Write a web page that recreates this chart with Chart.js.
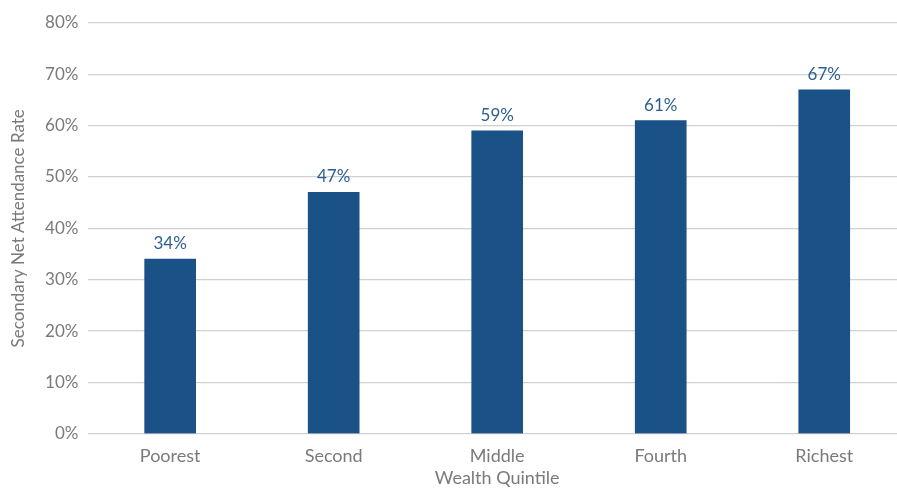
<!DOCTYPE html>
<html><head><meta charset="utf-8">
<script src="https://cdn.jsdelivr.net/npm/chart.js@4.4.0/dist/chart.umd.min.js"></script>
<style>
html,body{margin:0;padding:0;overflow:hidden;background:#fff;width:897px;height:489px}
#wrap{width:906px;height:489px;position:relative}
</style></head>
<body><div id="wrap"><canvas id="c"></canvas></div>
<script>
const categories = ["Poorest", "Second", "Middle", "Fourth", "Richest"];
const attendance = [34, 47, 59, 61, 67];
const yTicks = [0, 10, 20, 30, 40, 50, 60, 70, 80];

const FONT = "Lato";
const labelPlugin = {
  id: 'valueLabels',
  afterDatasetsDraw(chart) {
    const ctx = chart.ctx;
    const meta = chart.getDatasetMeta(0);
    ctx.save();
    ctx.fillStyle = '#2b5f93';
    ctx.font = '17px ' + FONT;
    ctx.textAlign = 'center';
    ctx.textBaseline = 'bottom';
    meta.data.forEach((bar, i) => {
      ctx.fillText(attendance[i] + '%', bar.x, bar.y - 7);
    });
    ctx.restore();
  }
};

new Chart(document.getElementById('c'), {
  type: 'bar',
  data: {
    labels: categories,
    datasets: [{
      data: attendance,
      backgroundColor: '#1a5186',
      barThickness: 51
    }]
  },
  options: {
    responsive: true,
    maintainAspectRatio: false,
    animation: false,
    layout: { padding: { top: 23, right: 0, bottom: 0, left: 0 } },
    plugins: { legend: { display: false }, tooltip: { enabled: false } },
    scales: {
      x: {
        grid: { display: false },
        border: { display: false },
        ticks: { color: '#7a7a7a', font: { family: FONT, size: 18 }, padding: 4 },
        title: { display: true, text: 'Wealth Quintile', color: '#7a7a7a', font: { family: FONT, size: 18 }, padding: { top: 0, bottom: 0 } },
        afterFit(s) { s.height = 55.3; }
      },
      y: {
        min: 0, max: 80,
        afterBuildTicks(s) { s.ticks = yTicks.map(v => ({ value: v })); },
        grid: { color: '#d0d0d0', lineWidth: 1.3, drawTicks: false },
        border: { display: false },
        ticks: { color: '#7a7a7a', font: { family: FONT, size: 17 }, padding: 10, callback: v => v + '%' },
        title: { display: true, text: 'Secondary Net Attendance Rate', color: '#7a7a7a', font: { family: FONT, size: 17 }, padding: { top: 8, bottom: 0 } },
        afterFit(s) { s.width = 88.4; }
      }
    }
  },
  plugins: [labelPlugin]
});
</script></body></html>
